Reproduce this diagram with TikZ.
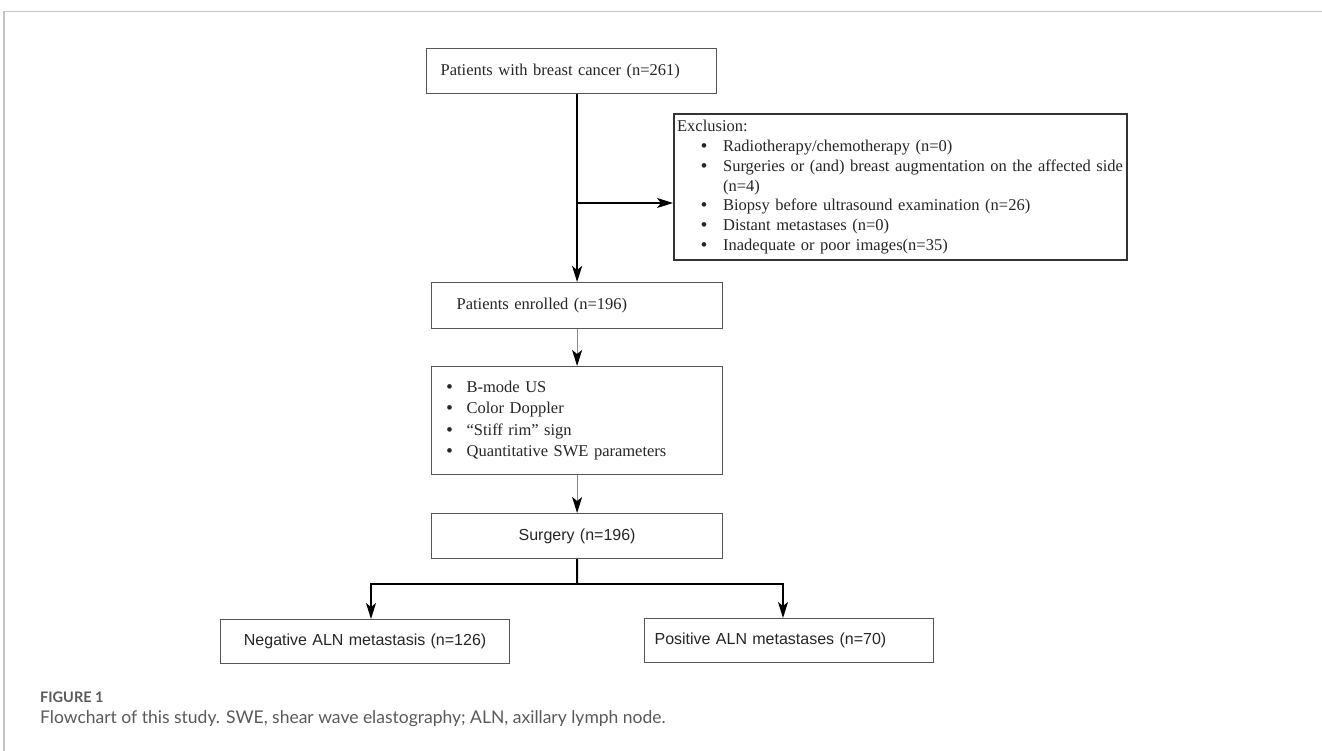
\documentclass[tikz,border=0pt]{standalone}
\usepackage{fontspec}
\setmainfont{Liberation Serif}
\newfontfamily\sansf{Liberation Sans}
\newfontfamily\capf{Lato}
\usetikzlibrary{arrows.meta}
\definecolor{framegray}{HTML}{C4C4C4}
\definecolor{boxgray}{HTML}{555555}
\definecolor{exgray}{HTML}{333333}
\definecolor{txt}{HTML}{262626}
\definecolor{linegray}{HTML}{8A8A8A}
\definecolor{capgray}{HTML}{5A5A5A}
\newcommand{\blt}[1]{\makebox[#1][l]{\sansf\fontsize{17}{17}\selectfont •}}
\begin{document}
\begin{tikzpicture}[x=1pt,y=-1pt,
  serifsz/.style={font=\fontsize{16.5}{19.9}\selectfont, text=txt},
  sanssz/.style={font=\sansf\fontsize{16}{19}\selectfont, text=txt},
  box/.style={draw=boxgray, line width=1.2pt, rectangle, anchor=north west, inner ysep=0pt},
  tip/.style={-{Stealth[length=16pt,width=10pt,inset=4pt]}},
  boldarrow/.style={tip, line width=2pt, black},
  thinarrow/.style={tip, line width=1.1pt, black},
  grayarrow/.style={line width=1.1pt, draw=linegray, -{Stealth[length=16pt,width=10pt,inset=4pt,fill=black,color=black]}},
  joint/.style={line width=2pt, black}]
\useasboundingbox (0,0) rectangle (1322,751);
\fill[white] (0,0) rectangle (1322,751);
% frame
\draw[framegray, line width=1.5pt] (4,751) -- (4,11.7) -- (1322,11.7);

% boxes
\node[box, serifsz, minimum height=45pt, inner xsep=14pt, text width=262pt, align=left] (b1) at (426,48) {Patients with breast cancer (n=261)};

\node[box, serifsz, draw=exgray, line width=2.2pt, minimum height=146pt, inner xsep=3pt, text width=447pt, align=left] (exl) at (673,113)
{\mbox{Exclusion:}\\
\mbox{\hspace{24pt}\blt{22pt}Radiotherapy/chemotherapy (n=0)}\\
\mbox{\hspace{24pt}\blt{22pt}Surgeries or (and) breast augmentation on the affected side}\\
\mbox{\hspace{46pt}(n=4)}\\
\mbox{\hspace{24pt}\blt{22pt}Biopsy before ultrasound examination (n=26)}\\
\mbox{\hspace{24pt}\blt{22pt}Distant metastases (n=0)}\\
\mbox{\hspace{24pt}\blt{22pt}Inadequate or poor images(n=35)}};

\node[box, serifsz, minimum height=46pt, inner xsep=25pt, text width=241pt, align=left] (b2) at (431,282) {Patients enrolled (n=196)};

\node[box, serifsz, font=\fontsize{16.5}{21.3}\selectfont, minimum height=108pt, inner xsep=15pt, text width=261pt, align=left] (b3) at (431,366)
{\blt{20pt}B-mode US\\
\blt{20pt}Color Doppler\\
\blt{20pt}“Stiff rim” sign\\
\blt{20pt}Quantitative SWE parameters};

\node[box, sanssz, minimum height=45pt, inner xsep=0pt, text width=291pt, align=center] (surg) at (431,513) {Surgery (n=196)};

\node[box, sanssz, minimum height=44pt, inner xsep=0pt, text width=289pt, align=center] (neg) at (220,619) {Negative ALN metastasis (n=126)};

\node[box, sanssz, minimum height=44pt, inner xsep=10pt, text width=269pt, align=left] (pos) at (644,618) {Positive ALN metastases (n=70)};

% connectors
\draw[boldarrow] (b2.north |- b1.south) -- (b2.north);
\coordinate (br) at (577,203);
\draw[thinarrow] (br) -- (exl.west |- br);
\draw[grayarrow] (b2.south) -- (b3.north);
\draw[grayarrow] (b3.south) -- (surg.north);
\coordinate (jm) at (577,584);
\coordinate (jl) at (371,584);
\coordinate (jr) at (783,584);
\draw[joint] (surg.south) -- (jm);
\draw[joint, line cap=rect] (jl) -- (jr);
\draw[tip, line width=1.6pt] (jl) -- (jl |- neg.north);
\draw[tip, line width=1.6pt] (jr) -- (jr |- pos.north);

% caption
\node[anchor=west, inner sep=0, text=capgray, font=\capf\bfseries\fontsize{14.5}{17}\selectfont] (figlabel) at (40,697) {FIGURE 1};
\node[anchor=west, inner sep=0, text=capgray, font=\capf\fontsize{17.5}{21}\selectfont] (caption) at (40,719) {Flowchart of this study. SWE, shear wave elastography; ALN, axillary lymph node.};
\end{tikzpicture}
\end{document}
